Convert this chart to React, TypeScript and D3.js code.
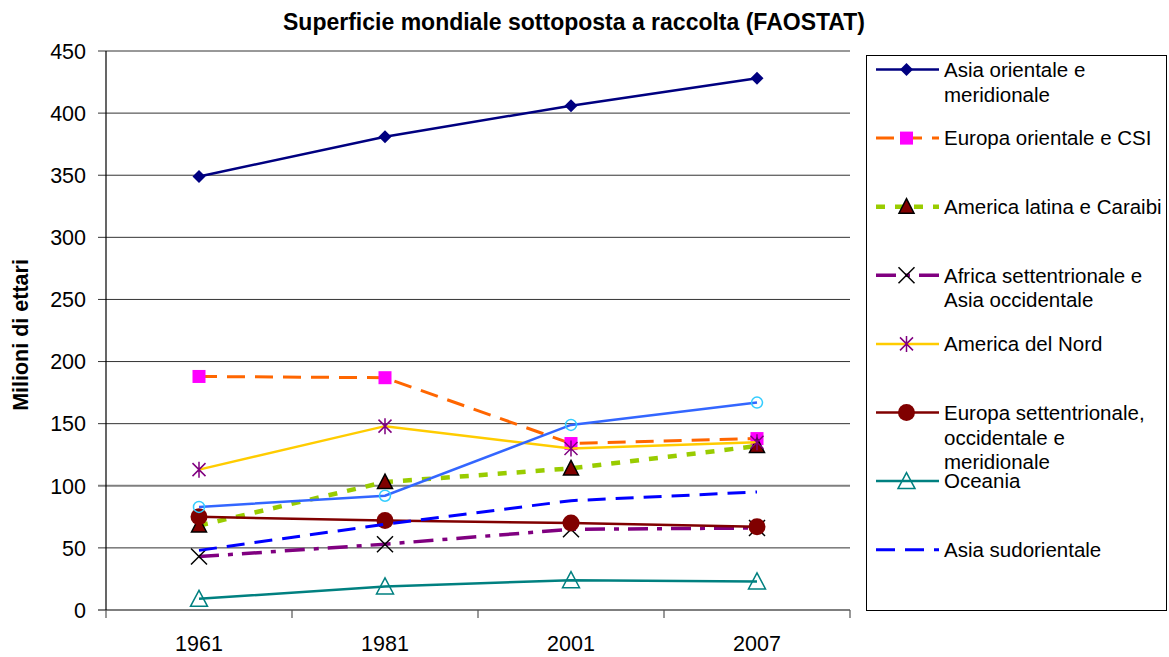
import React from "react";
import * as d3 from "d3";

const years = ["1961", "1981", "2001", "2007"];
const yTicks = [0, 50, 100, 150, 200, 250, 300, 350, 400, 450];

const asiaOrMer = [349, 381, 406, 428];
const europaOrCsi = [188, 187, 134, 138];
const americaLatina = [68, 103, 114, 132];
const africaSett = [43, 53, 65, 66];
const americaNord = [113, 148, 130, 135];
const europaSett = [75, 72, 70, 67];
const oceania = [9, 19, 24, 23];
const asiaSud = [48, 69, 88, 95];
const unnamed = [83, 92, 149, 167];

type Marker = "diamond" | "square" | "triFilled" | "x" | "asterisk" | "circle" | "triOpen" | "none" | "circleOpen";

interface Series {
  name: string[];
  values: number[];
  color: string;
  width: number;
  dash?: string;
  marker: Marker;
  markerColor: string;
  legend: boolean;
}

const series: Series[] = [
  { name: ["Asia orientale e", "meridionale"], values: asiaOrMer, color: "#000080", width: 2.5, marker: "diamond", markerColor: "#000080", legend: true },
  { name: ["Europa orientale e CSI"], values: europaOrCsi, color: "#FF6600", width: 3, dash: "18,10", marker: "square", markerColor: "#FF00FF", legend: true },
  { name: ["America latina e Caraibi"], values: americaLatina, color: "#99CC00", width: 4.5, dash: "9,10", marker: "triFilled", markerColor: "#800000", legend: true },
  { name: ["Africa settentrionale e", "Asia occidentale"], values: africaSett, color: "#800080", width: 3.5, dash: "20,9,5,9", marker: "x", markerColor: "#000000", legend: true },
  { name: ["America del Nord"], values: americaNord, color: "#FFCC00", width: 2.5, marker: "asterisk", markerColor: "#800080", legend: true },
  { name: ["Europa settentrionale,", "occidentale e", "meridionale"], values: europaSett, color: "#800000", width: 2.5, marker: "circle", markerColor: "#800000", legend: true },
  { name: ["Oceania"], values: oceania, color: "#008080", width: 2.5, marker: "triOpen", markerColor: "#008080", legend: true },
  { name: ["Asia sudorientale"], values: asiaSud, color: "#0000FF", width: 3, dash: "18,10", marker: "none", markerColor: "#0000FF", legend: true },
  { name: [""], values: unnamed, color: "#3366FF", width: 2.5, marker: "circleOpen", markerColor: "#33CCFF", legend: false },
];

const FONT = "'Liberation Sans', Arial, sans-serif";

function MarkerShape({ m, c, x, y }: { m: Marker; c: string; x: number; y: number }) {
  const t = `translate(${x},${y})`;
  switch (m) {
    case "diamond":
      return <path transform={t} d="M0,-6.5L6.5,0L0,6.5L-6.5,0Z" fill={c} />;
    case "square":
      return <rect transform={t} x={-6.5} y={-6.5} width={13} height={13} fill={c} />;
    case "triFilled":
      return <path transform={t} d="M0,-8L7.5,6.5L-7.5,6.5Z" fill={c} stroke="#000" strokeWidth={1.5} strokeLinejoin="miter" />;
    case "x":
      return <path transform={t} d="M-8,-8L8,8M8,-8L-8,8" stroke={c} strokeWidth={1.5} fill="none" />;
    case "asterisk":
      return <path transform={t} d="M0,-8L0,8M-6.5,-6.5L6.5,6.5M6.5,-6.5L-6.5,6.5" stroke={c} strokeWidth={1.5} fill="none" />;
    case "circle":
      return <circle transform={t} r={8.5} fill={c} />;
    case "triOpen":
      return <path transform={t} d="M0,-8.5L8.5,7.5L-8.5,7.5Z" fill="none" stroke={c} strokeWidth={1.5} />;
    case "circleOpen":
      return <circle transform={t} r={5.5} fill="none" stroke={c} strokeWidth={1.5} />;
    default:
      return null;
  }
}

export default function App() {
  const W = 1169, H = 657;
  const left = 106, right = 850, top = 51, bottom = 610;
  const x = d3.scaleBand<string>().domain(years).range([left, right]);
  const y = d3.scaleLinear().domain([0, 450]).range([bottom, top]);
  const cx = (yr: string) => (x(yr) as number) + x.bandwidth() / 2;
  const line = d3.line<number>().x((_, i) => cx(years[i])).y((v) => y(v));

  const legX0 = 876, legX1 = 939, legTextX = 944;
  const legY0 = 69.5, legStep = 68.6, legLine = 24.8;

  return (
    <svg width={W} height={H} style={{ position: "absolute", left: 0, top: 0, background: "#fff" }} fontFamily={FONT}>
      <rect width={W} height={H} fill="#fff" />
      <text x={574} y={30} textAnchor="middle" fontSize={23} fontWeight="bold">
        Superficie mondiale sottoposta a raccolta (FAOSTAT)
      </text>
      {/* grid */}
      {yTicks.map((t) => (
        <g key={t}>
          <line x1={left - 8} x2={right} y1={y(t)} y2={y(t)} stroke={t === 0 || t === 100 ? "#7f7f7f" : "#333"} strokeWidth={t === 0 || t === 100 ? 2 : 1} />
          <text x={86} y={y(t)} dy="0.36em" textAnchor="end" fontSize={21.5}>{t}</text>
        </g>
      ))}
      <line x1={left} x2={left} y1={top} y2={bottom} stroke="#000" strokeWidth={1.2} />
      {d3.range(years.length + 1).map((i) => {
        const xx = left + i * x.bandwidth();
        return <line key={i} x1={xx} x2={xx} y1={bottom} y2={bottom + 8} stroke="#555" strokeWidth={1.2} />;
      })}
      {years.map((yr) => (
        <text key={yr} x={cx(yr)} y={651} textAnchor="middle" fontSize={21.5}>{yr}</text>
      ))}
      <text transform={`translate(28,335) rotate(-90)`} textAnchor="middle" fontSize={21.5} fontWeight="bold">
        Milioni di ettari
      </text>
      {/* series */}
      {series.map((s, si) => (
        <g key={si}>
          <path d={line(s.values) || ""} fill="none" stroke={s.color} strokeWidth={s.width} strokeDasharray={s.dash} />
          {s.values.map((v, i) => (
            <MarkerShape key={i} m={s.marker} c={s.markerColor} x={cx(years[i])} y={y(v)} />
          ))}
        </g>
      ))}
      {/* legend */}
      <rect x={866.5} y={55.5} width={300} height={555} fill="#fff" stroke="#000" strokeWidth={1} />
      {series.filter((s) => s.legend).map((s, i) => {
        const ly = legY0 + i * legStep;
        return (
          <g key={i}>
            <line x1={legX0} x2={legX1} y1={ly} y2={ly} stroke={s.color} strokeWidth={s.width} strokeDasharray={s.dash ? (s.marker === "none" ? "19,10" : s.dash) : undefined} />
            <MarkerShape m={s.marker} c={s.markerColor} x={(legX0 + legX1) / 2 - 1} y={ly} />
            {s.name.map((n, k) => (
              <text key={k} x={legTextX} y={ly + k * legLine} dy="0.36em" fontSize={20.5}>{n}</text>
            ))}
          </g>
        );
      })}
    </svg>
  );
}
